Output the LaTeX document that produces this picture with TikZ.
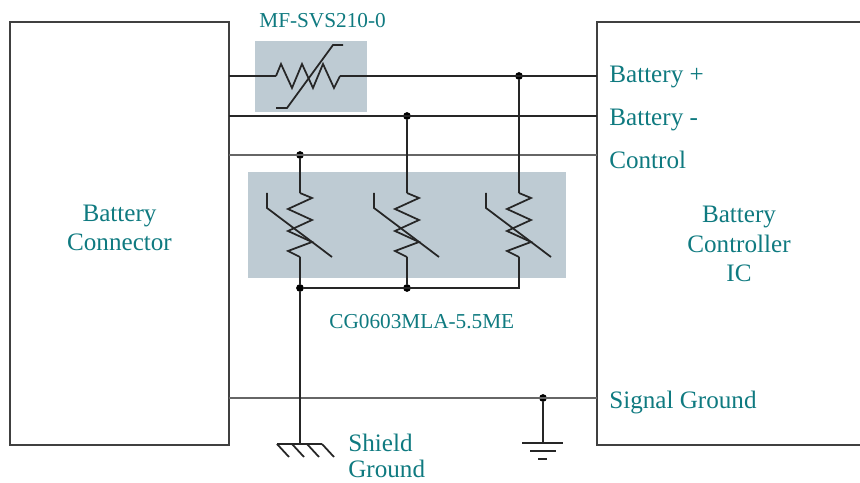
\documentclass[tikz,border=0pt]{standalone}
\usepackage{fontspec}
\setmainfont{Liberation Serif}
\usetikzlibrary{positioning}
\definecolor{labelteal}{HTML}{0F7A80}
\definecolor{panelgray}{HTML}{BECBD3}
\tikzset{
x=0.02cm, y=-0.02cm, % one unit is one pixel of the reference
panel/.style={fill=panelgray, draw=none},
outline/.style={draw=black!75, line width=0.8pt},
wire/.style={draw=black!85, line width=1pt}, % sets the plain connectors
thickwire/.style={draw=black!85, line width=1.25pt},
greywire/.style={draw=black!60, line width=1.25pt},
dot/.style={circle, fill=black, inner sep=0pt, minimum size=4.4pt},
biglabel/.style={text=labelteal, font=\fontsize{14.3}{16.8}\selectfont, inner sep=0pt},
smalllabel/.style={text=labelteal, font=\fontsize{12.1}{16}\selectfont, inner sep=0pt},
pics/varistor/.style={code={
  \draw[wire] (0,0) -- (12,5) -- (-12,16) -- (12,27) -- (-12,38) -- (12,49) -- (-12,58) -- (0,64);
  \draw[wire] (-33,0) -- (-33,15) -- (32,64);
}},
}

\begin{document}
\begin{tikzpicture}
\useasboundingbox (0,0) rectangle (860,483);

\node[panel, minimum width=2.24cm, minimum height=1.42cm] at (311, 76.5) (fusepanel) {};
\node[panel, minimum width=6.36cm, minimum height=2.12cm] at (407, 225) (tvspanel) {};

\node[outline, minimum width=4.38cm, minimum height=8.46cm] at (119.5, 233.5) (connector) {};
\node[align=center, biglabel] at (119.5, 228) (connectortext) {Battery\\Connector};
\coordinate (ictopright) at (860, 22);
\coordinate (ictopleft) at (597, 22);
\coordinate (icbotleft) at (597, 445);
\coordinate (icbotright) at (860, 445);
\node[align=center, biglabel] at (739, 244) (ictext) {Battery\\Controller\\IC};

% pins on both boxes
\coordinate (plusin) at (229, 76);
\coordinate (minusin) at (229, 116);
\coordinate (ctrlin) at (229, 155);
\coordinate (sgndin) at (229, 398);
\coordinate (plusout) at (597, 76);
\coordinate (minusout) at (597, 116);
\coordinate (ctrlout) at (597, 155);
\coordinate (sgndout) at (597, 398);

% junctions
\node[dot] at (519, 76) (plusdot) {};
\node[dot] at (407, 116) (minusdot) {};
\node[dot] at (300, 155) (ctrldot) {};
\node[dot] at (300, 288) (busleft) {};
\node[dot] at (407, 288) (busmid) {};
\coordinate (busright) at (519, 288);
\node[dot] at (543, 398) (sgnddot) {};

\coordinate (tvsatop) at (300, 193);
\coordinate (tvsabot) at (300, 257);
\coordinate (tvsbtop) at (407, 193);
\coordinate (tvsbbot) at (407, 257);
\coordinate (tvsctop) at (519, 193);
\coordinate (tvscbot) at (519, 257);
\coordinate (fusein) at (276, 76);
\coordinate (fuseout) at (340, 76);
\coordinate (shieldtop) at (300, 444);
\coordinate (gndtop) at (543, 443);

\draw[outline] (ictopright) -- (ictopleft) -- (icbotleft) -- (icbotright);

\draw[wire] (plusin) -- (fusein);
\draw[wire] (fusein) -- ++(5,-12) -- ++(11,24) -- ++(10,-24) -- ++(11,24) -- ++(10,-24) -- ++(11,24) -- (fuseout);
\draw[wire] (276,108) -- (287,108) -- (333,45) -- (343,45);
\draw[wire] (fuseout) -- (plusout);
\draw[thickwire] (minusin) -- (minusout);
\draw[greywire] (ctrlin) -- (ctrlout);
\draw[greywire] (sgndin) -- (sgndout);

\draw[wire] (plusdot) -- (tvsctop);
\draw[wire] (minusdot) -- (tvsbtop);
\draw[wire] (ctrldot) -- (tvsatop);
\pic at (tvsatop) {varistor};
\pic at (tvsbtop) {varistor};
\pic at (tvsctop) {varistor};
\draw[wire] (tvsabot) -- (busleft);
\draw[wire] (tvsbbot) -- (busmid);
\draw[wire] (tvscbot) -- (busright) -- (busleft);
\draw[wire] (busleft) -- (shieldtop);
\draw[wire] (sgnddot) -- (gndtop);

% shield ground
\draw[wire] (277,444) -- (322,444);
\draw[wire] (277,444) -- ++(12,13);
\draw[wire] (292,444) -- ++(12,13);
\draw[wire] (307,444) -- ++(12,13);
\draw[wire] (322,444) -- ++(12,13);

% signal ground
\draw[wire] (522,443) -- (563,443);
\draw[wire] (530,451) -- (556,451);
\draw[wire] (538,459) -- (547,459);

\node[smalllabel, anchor=base west] at (259, 28) (fusetext) {MF-SVS210-0};
\node[smalllabel, anchor=base west] at (329, 329) (tvstext) {CG0603MLA-5.5ME};
\node[biglabel, anchor=base west] at (609, 83) (plustext) {Battery +};
\node[biglabel, anchor=base west] at (609, 126) (minustext) {Battery -};
\node[biglabel, anchor=base west] at (609, 169) (ctrltext) {Control};
\node[biglabel, anchor=base west] at (609, 408) (sgndtext) {Signal Ground};
\node[biglabel, anchor=base west] at (348, 452) (shieldtext) {Shield};
\node[biglabel, anchor=base west] at (348, 478) (groundtext) {Ground};

\end{tikzpicture}
\end{document}
